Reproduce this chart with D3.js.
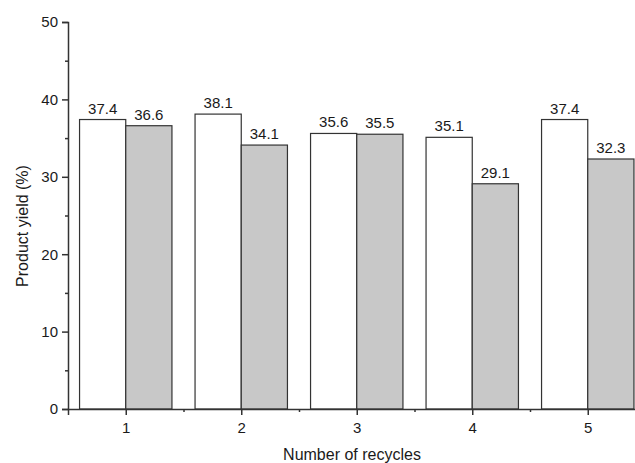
<!DOCTYPE html>
<html><head><meta charset="utf-8">
<script src="https://cdn.jsdelivr.net/npm/d3@7"></script>
<style>body{margin:0;background:#fff}svg{display:block}text{font-family:"Liberation Sans",Arial,sans-serif;fill:#1a1a1a}</style>
</head><body>
<script>
const cycles = [1, 2, 3, 4, 5];
const seriesA = [37.4, 38.1, 35.6, 35.1, 37.4];
const seriesB = [36.6, 34.1, 35.5, 29.1, 32.3];
const yTicks = [0, 10, 20, 30, 40, 50];
const yMinor = [5, 15, 25, 35, 45];
const xMinor = [1.5, 2.5, 3.5, 4.5, 5.5];

(function () {
const W = 635, H = 463;
const svg = d3.select("body").append("svg").attr("width", W).attr("height", H);
const mLeft = 68, mBottom = 409, mTop = 22;
const x = d3.scaleLinear().domain([0.5, 5.5]).range([mLeft, mLeft + 5 * 115.5]);
const y = d3.scaleLinear().domain([0, 50]).range([mBottom, mTop]);
const bw = x(1.4) - x(1);
const ink = "#333";
const fs = 15;

const g = svg.append("g");
g.selectAll(".a").data(cycles).join("rect")
  .attr("x", (d) => x(d) - bw).attr("y", (d, i) => y(seriesA[i]))
  .attr("width", bw).attr("height", (d, i) => mBottom - y(seriesA[i]))
  .attr("fill", "#fff").attr("stroke", ink).attr("stroke-width", 1.2);
g.selectAll(".b").data(cycles).join("rect")
  .attr("x", (d) => x(d)).attr("y", (d, i) => y(seriesB[i]))
  .attr("width", bw).attr("height", (d, i) => mBottom - y(seriesB[i]))
  .attr("fill", "#c8c8c8").attr("stroke", ink).attr("stroke-width", 1.2);

g.selectAll(".la").data(cycles).join("text")
  .attr("x", (d) => x(d) - bw / 2).attr("y", (d, i) => y(seriesA[i]) - 6)
  .attr("text-anchor", "middle").attr("font-size", fs).text((d, i) => seriesA[i].toFixed(1));
g.selectAll(".lb").data(cycles).join("text")
  .attr("x", (d) => x(d) + bw / 2).attr("y", (d, i) => y(seriesB[i]) - 6)
  .attr("text-anchor", "middle").attr("font-size", fs).text((d, i) => seriesB[i].toFixed(1));

svg.append("g").attr("transform", `translate(${mLeft},0)`)
  .call(d3.axisLeft(y).tickValues(yTicks).tickSize(6).tickPadding(4).tickFormat(d3.format("d")));
svg.append("g").attr("transform", `translate(${mLeft},0)`)
  .call(d3.axisLeft(y).tickValues(yMinor).tickSize(3).tickFormat(""))
  .call((s) => s.select(".domain").remove());
svg.append("g").attr("transform", `translate(0,${mBottom})`)
  .call(d3.axisBottom(x).tickValues(cycles).tickSize(6).tickPadding(7).tickFormat(d3.format("d")));
svg.append("g").attr("transform", `translate(0,${mBottom})`)
  .call(d3.axisBottom(x).tickValues(xMinor).tickSize(3).tickFormat(""))
  .call((s) => s.select(".domain").remove());

svg.selectAll(".domain").attr("stroke", ink).attr("stroke-width", 1.5);
svg.selectAll(".tick line").attr("stroke", ink).attr("stroke-width", 1.5);
svg.selectAll(".tick text").attr("font-size", fs).attr("fill", "#1a1a1a")
  .attr("font-family", '"Liberation Sans",Arial,sans-serif');

svg.append("text").attr("x", 352).attr("y", 460).attr("text-anchor", "middle")
  .attr("font-size", 16).text("Number of recycles");
svg.append("text").attr("transform", `translate(28,226) rotate(-90)`)
  .attr("text-anchor", "middle").attr("font-size", 16).text("Product yield (%)");
})();
</script>
</body></html>
